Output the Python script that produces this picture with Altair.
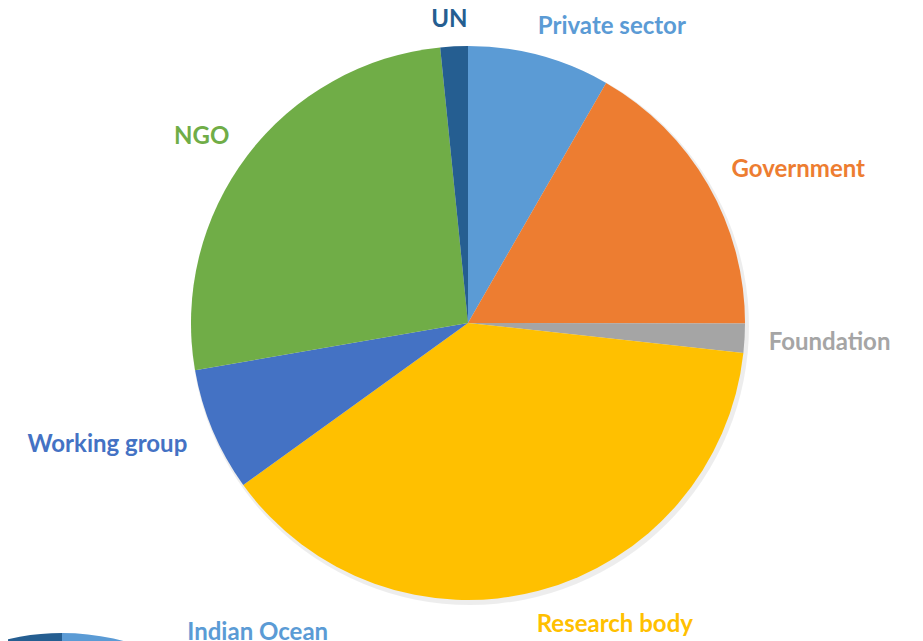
import math
import altair as alt
import pandas as pd

# ---- data ----
categories = ["Private sector", "Government", "Foundation", "Research body",
              "Working group", "NGO", "UN"]
shares = [8.3, 16.7, 1.7, 38.3, 7.2, 26.1, 1.6]
colors = ["#5B9BD5", "#ED7D31", "#A5A5A5", "#FFC000", "#4472C4", "#70AD47", "#255E91"]

# second (cut-off) pie at the bottom-left of the picture
second_categories = ["Indian Ocean", "Other"]
second_shares = [55, 45]
second_colors = ["#5B9BD5", "#255E91"]

# ---- layout ----
W, H = 892, 633
CX, CY, R = 460, 315, 277
CX2, CY2, R2 = 54, 865, 240
# label nudges: (angle offset from slice middle in degrees, distance from centre)
label_nudge = {
    "Private sector": (10.8, 331), "Government": (4.8, 365), "Foundation": (-0.3, 362),
    "Research body": (-11.3, 334), "Working group": (4.4, 380), "NGO": (-2.0, 326),
    "UN": (-0.6, 306),
}
second_nudge = {"Indian Ocean": (39.0, 311)}


def build(cats, vals, cx, cy, nudges, absolute=False):
    total = sum(vals)
    rows, cum = [], 0.0
    for i, (c, v) in enumerate(zip(cats, vals)):
        mid = (cum + v / 2) / total * 360
        cum += v
        row = {"category": c, "share": v, "order": i}
        if c in nudges:
            off, r = nudges[c]
            a = math.radians(off if absolute else mid + off)
            row["lx"] = cx + r * math.sin(a)
            row["ly"] = cy - r * math.cos(a)
        rows.append(row)
    return pd.DataFrame(rows)


df = build(categories, shares, CX, CY, label_nudge)
df2 = build(second_categories, second_shares, CX2, CY2, second_nudge, absolute=True)

font = "Lato"
fsize = 24

shadow = alt.Chart(pd.DataFrame({"v": [1]})).mark_arc(
    radius=R + 2, color="#000000", opacity=0.07
).encode(theta=alt.Theta("v:Q"), x=alt.value(CX + 2), y=alt.value(CY + 3))

pie = alt.Chart(df).mark_arc(radius=R).encode(
    theta=alt.Theta("share:Q", stack=True),
    color=alt.Color("category:N", scale=alt.Scale(domain=categories, range=colors), legend=None),
    order=alt.Order("order:Q"),
    x=alt.value(CX), y=alt.value(CY),
)

labels = alt.Chart(df).mark_text(
    font=font, fontSize=fsize, fontWeight="bold", align="center", baseline="middle", dy=2
).encode(
    x=alt.X("lx:Q", scale=None),
    y=alt.Y("ly:Q", scale=None),
    text="category:N",
    color=alt.Color("category:N", scale=alt.Scale(domain=categories, range=colors), legend=None),
)

pie2 = alt.Chart(df2).mark_arc(radius=R2).encode(
    theta=alt.Theta("share:Q", stack=True),
    color=alt.Color("category:N", scale=alt.Scale(domain=second_categories, range=second_colors), legend=None),
    order=alt.Order("order:Q"),
    x=alt.value(CX2), y=alt.value(CY2),
)

labels2 = alt.Chart(df2.dropna()).mark_text(
    font=font, fontSize=fsize, fontWeight="bold", align="center", baseline="middle",
    color="#5B9BD5", dy=2,
).encode(
    x=alt.X("lx:Q", scale=None),
    y=alt.Y("ly:Q", scale=None),
    text="category:N",
)

chart = alt.layer(shadow, pie, labels, pie2, labels2).resolve_scale(
    color="independent", theta="independent"
).properties(
    width=W, height=H, padding=0, autosize=alt.AutoSizeParams(type="none")
).configure_view(stroke=None)

chart.save("out.html", embed_options={"renderer": "svg", "actions": False})
